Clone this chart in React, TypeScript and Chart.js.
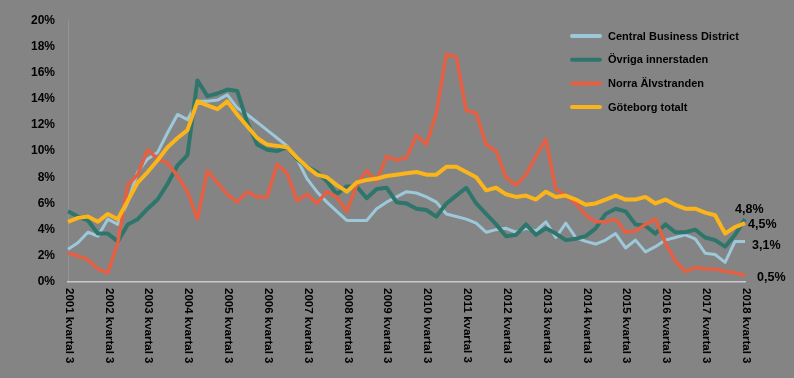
import React, { useEffect, useRef } from "react";
import { Chart, registerables } from "chart.js";

Chart.register(...registerables);

const categories = [
  "2001 kvartal 3", "2001 kvartal 4", "2002 kvartal 1", "2002 kvartal 2",
  "2002 kvartal 3", "2002 kvartal 4", "2003 kvartal 1", "2003 kvartal 2",
  "2003 kvartal 3", "2003 kvartal 4", "2004 kvartal 1", "2004 kvartal 2",
  "2004 kvartal 3", "2004 kvartal 4", "2005 kvartal 1", "2005 kvartal 2",
  "2005 kvartal 3", "2005 kvartal 4", "2006 kvartal 1", "2006 kvartal 2",
  "2006 kvartal 3", "2006 kvartal 4", "2007 kvartal 1", "2007 kvartal 2",
  "2007 kvartal 3", "2007 kvartal 4", "2008 kvartal 1", "2008 kvartal 2",
  "2008 kvartal 3", "2008 kvartal 4", "2009 kvartal 1", "2009 kvartal 2",
  "2009 kvartal 3", "2009 kvartal 4", "2010 kvartal 1", "2010 kvartal 2",
  "2010 kvartal 3", "2010 kvartal 4", "2011 kvartal 1", "2011 kvartal 2",
  "2011 kvartal 3", "2011 kvartal 4", "2012 kvartal 1", "2012 kvartal 2",
  "2012 kvartal 3", "2012 kvartal 4", "2013 kvartal 1", "2013 kvartal 2",
  "2013 kvartal 3", "2013 kvartal 4", "2014 kvartal 1", "2014 kvartal 2",
  "2014 kvartal 3", "2014 kvartal 4", "2015 kvartal 1", "2015 kvartal 2",
  "2015 kvartal 3", "2015 kvartal 4", "2016 kvartal 1", "2016 kvartal 2",
  "2016 kvartal 3", "2016 kvartal 4", "2017 kvartal 1", "2017 kvartal 2",
  "2017 kvartal 3", "2017 kvartal 4", "2018 kvartal 1", "2018 kvartal 2",
  "2018 kvartal 3",
];

const centralBusinessDistrict = [
  2.5, 3.0, 3.8, 3.5, 4.8, 4.4, 6.1, 8.4, 9.4, 9.9, 11.4, 12.8,
  12.4, 13.8, 13.8, 13.9, 14.3, 13.3, 12.8, 12.2, 11.6, 11.0, 10.4, 9.4,
  7.9, 6.9, 6.1, 5.4, 4.7, 4.7, 4.7, 5.6, 6.1, 6.5, 6.9, 6.8,
  6.5, 6.1, 5.2, 5.0, 4.8, 4.5, 3.8, 4.0, 4.1, 3.8, 4.1, 3.9,
  4.6, 3.4, 4.5, 3.4, 3.1, 2.9, 3.2, 3.7, 2.6, 3.2, 2.3, 2.7,
  3.2, 3.4, 3.6, 3.3, 2.2, 2.1, 1.5, 3.1, 3.1,
];

const ovrigaInnerstaden = [
  5.4, 5.0, 4.7, 3.7, 3.7, 3.1, 4.4, 4.8, 5.6, 6.3, 7.5, 8.9,
  9.7, 15.4, 14.2, 14.4, 14.7, 14.6, 12.2, 10.5, 10.1, 10.0, 10.3, 9.4,
  8.8, 8.4, 7.7, 6.7, 7.3, 7.3, 6.4, 7.1, 7.2, 6.1, 6.0, 5.6,
  5.5, 5.0, 6.0, 6.6, 7.2, 6.0, 5.2, 4.4, 3.5, 3.6, 4.4, 3.6,
  4.1, 3.7, 3.2, 3.3, 3.5, 4.1, 5.2, 5.6, 5.4, 4.4, 4.3, 3.7,
  4.4, 3.8, 3.8, 4.0, 3.4, 3.2, 2.7, 3.6, 4.8,
];

const norraAlvstranden = [
  2.2, 2.0, 1.7, 1.0, 0.7, 3.0, 7.4, 8.2, 10.1, 9.4, 9.1, 8.1,
  6.9, 4.8, 8.5, 7.6, 6.7, 6.1, 6.9, 6.5, 6.5, 9.0, 8.3, 6.2,
  6.7, 6.0, 6.9, 6.5, 5.4, 7.4, 8.5, 7.7, 9.6, 9.3, 9.5, 11.2,
  10.5, 12.9, 17.4, 17.2, 13.1, 12.9, 10.5, 10.0, 8.0, 7.4, 8.2, 9.6,
  10.9, 7.1, 6.6, 6.0, 5.1, 4.6, 4.6, 4.8, 3.8, 3.9, 4.4, 4.8,
  3.0, 1.6, 0.8, 1.1, 1.0, 1.0, 0.8, 0.7, 0.5,
];

const goteborgTotalt = [
  4.6, 4.9, 5.0, 4.6, 5.2, 4.8, 6.2, 7.6, 8.4, 9.3, 10.3, 11.0,
  11.6, 13.8, 13.5, 13.2, 13.8, 12.8, 11.9, 11.0, 10.5, 10.4, 10.3, 9.5,
  8.8, 8.2, 8.0, 7.4, 6.9, 7.6, 7.8, 7.9, 8.1, 8.2, 8.3, 8.4,
  8.2, 8.2, 8.8, 8.8, 8.4, 8.0, 7.0, 7.2, 6.7, 6.5, 6.6, 6.3,
  6.9, 6.5, 6.6, 6.3, 5.9, 6.0, 6.3, 6.6, 6.3, 6.3, 6.5, 6.0,
  6.3, 5.9, 5.6, 5.6, 5.3, 5.1, 3.7, 4.2, 4.5,
];

const seriesNames = [
  "Central Business District",
  "Övriga innerstaden",
  "Norra Älvstranden",
  "Göteborg totalt",
];

const yMin = 0;
const yMax = 20;
const yStep = 2;

const FONT = '"Liberation Sans", Arial, Helvetica, sans-serif';
const BG = "#848484";

export default function App() {
  const ref = useRef<HTMLCanvasElement | null>(null);

  useEffect(() => {
    const canvas = ref.current;
    if (!canvas) return;

    const colors = ["#9CC8DA", "#2E766B", "#E55F43", "#FBB51A"];
    const widths = [3, 4, 3.5, 4];
    const endOffsets = [
      { dx: 7, dy: 4 },
      { dx: -10, dy: -10 },
      { dx: 12, dy: 2 },
      { dx: 3, dy: 1 },
    ];
    const values = [centralBusinessDistrict, ovrigaInnerstaden, norraAlvstranden, goteborgTotalt];

    const bgPlugin = {
      id: "bgFill",
      beforeDraw(chart: any) {
        const c = chart.ctx;
        c.save();
        c.fillStyle = BG;
        c.fillRect(0, 0, chart.width, chart.height);
        c.restore();
      },
    };

    const xLabelPlugin = {
      id: "xLabels",
      afterDraw(chart: any) {
        const xs = chart.scales.x;
        const c = chart.ctx;
        c.save();
        c.fillStyle = "#000";
        c.font = `bold 11.5px ${FONT}`;
        c.textAlign = "left";
        c.textBaseline = "middle";
        categories.forEach((lab, i) => {
          if (!lab.endsWith("kvartal 3")) return;
          const x = xs.getPixelForValue(i);
          c.save();
          c.translate(x + 1, chart.chartArea.bottom + 6);
          c.rotate(Math.PI / 2);
          c.fillText(lab, 0, 0);
          c.restore();
        });
        c.restore();
      },
    };

    const legendPlugin = {
      id: "customLegend",
      afterDraw(chart: any) {
        const c = chart.ctx;
        c.save();
        c.font = `bold 11px ${FONT}`;
        c.textAlign = "left";
        c.textBaseline = "middle";
        seriesNames.forEach((name, i) => {
          const y = 36 + i * 23.7;
          c.strokeStyle = colors[i];
          c.lineWidth = 4;
          c.lineCap = "round";
          c.beginPath();
          c.moveTo(572, y);
          c.lineTo(600, y);
          c.stroke();
          c.fillStyle = "#000";
          c.fillText(name, 608, y + 0.5);
        });
        c.restore();
      },
    };

    const endLabelPlugin = {
      id: "endLabels",
      afterDraw(chart: any) {
        const c = chart.ctx;
        c.save();
        c.font = `bold 12.5px ${FONT}`;
        c.fillStyle = "#000";
        c.textAlign = "left";
        c.textBaseline = "middle";
        values.forEach((arr, i) => {
          const meta = chart.getDatasetMeta(i);
          const pt = meta.data[arr.length - 1];
          const v = arr[arr.length - 1];
          const txt = v.toFixed(1).replace(".", ",") + "%";
          c.fillText(txt, pt.x + endOffsets[i].dx, pt.y + endOffsets[i].dy);
        });
        c.restore();
      },
    };

    const chart = new Chart(canvas, {
      type: "line",
      data: {
        labels: categories,
        datasets: values.map((arr, i) => ({
          label: seriesNames[i],
          data: arr,
          borderColor: colors[i],
          backgroundColor: colors[i],
          borderWidth: widths[i],
          pointRadius: 0,
          tension: 0,
          fill: false,
          order: 4 - i,
          borderJoinStyle: "round" as const,
        })),
      },
      options: {
        animation: false,
        responsive: true,
        maintainAspectRatio: false,
        layout: { padding: { top: 16, right: 49, bottom: 0, left: 0 } },
        plugins: {
          legend: { display: false },
          tooltip: { enabled: false },
        },
        scales: {
          x: {
            type: "category",
            offset: false,
            grid: { display: false, drawTicks: false },
            border: { display: true, color: "#c9c9c9", width: 1.5 },
            ticks: { display: false },
            afterFit(scale: any) {
              scale.height = 96;
            },
          },
          y: {
            min: yMin,
            max: yMax,
            grid: { display: false, drawTicks: false },
            border: { display: true, color: "rgba(255,255,255,0.12)", width: 1 },
            ticks: {
              stepSize: yStep,
              padding: 13,
              color: "#000",
              font: { family: FONT, size: 12, weight: "bold" },
              callback: (v: any) => `${v}%`,
            },
            afterFit(scale: any) {
              scale.width = 68;
            },
          },
        },
      },
      plugins: [bgPlugin, xLabelPlugin, legendPlugin, endLabelPlugin],
    });

    return () => chart.destroy();
  }, []);

  return (
    <div
      style={{
        position: "fixed",
        left: 0,
        top: 0,
        width: 794,
        height: 378,
        background: BG,
      }}
    >
      <canvas ref={ref} />
    </div>
  );
}
